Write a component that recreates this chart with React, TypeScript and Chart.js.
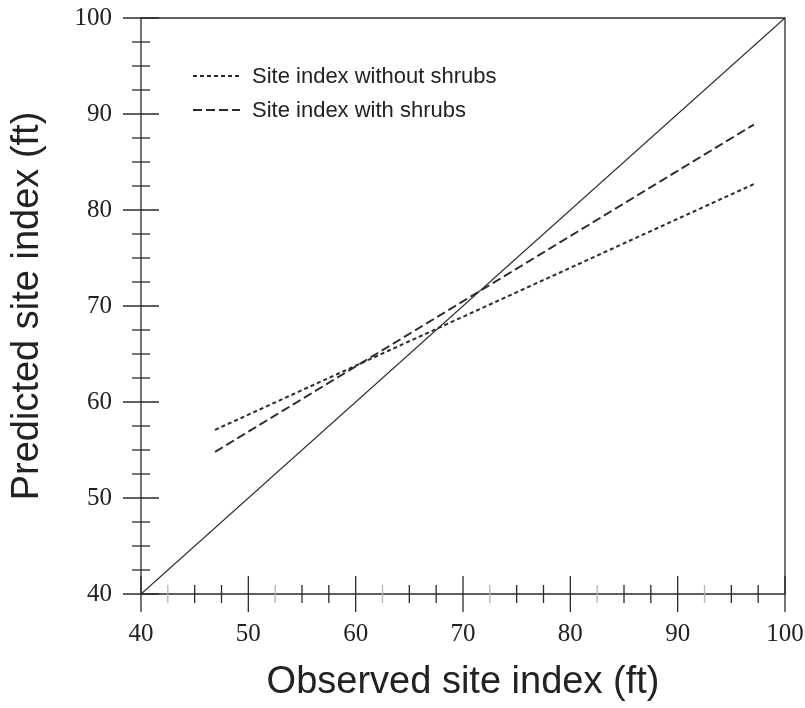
import React, { useEffect, useRef } from 'react';
import { Chart, registerables } from 'chart.js';

Chart.register(...registerables);

// ---- Data ----
const identityX = [40, 100];
const identityY = [40, 100];
const withoutShrubsX = [46.9, 97.1];
const withoutShrubsY = [57.1, 82.7];
const withShrubsX = [46.9, 97.1];
const withShrubsY = [54.8, 88.9];

const axisMin = 40;
const axisMax = 100;
const majorTicks = [40, 50, 60, 70, 80, 90, 100];
const minorTicks = [42.5, 45, 47.5, 52.5, 55, 57.5, 62.5, 65, 67.5, 72.5, 75, 77.5, 82.5, 85, 87.5, 92.5, 95, 97.5];
const xAxisTitle = 'Observed site index (ft)';
const yAxisTitle = 'Predicted site index (ft)';
const legendLabels = ['Site index without shrubs', 'Site index with shrubs'];

const toPoints = (xs: number[], ys: number[]) => xs.map((x, i) => ({ x, y: ys[i] }));

const DOTTED = [4, 3];
const DASHED = [9, 4];
const INK = '#2b2b2b';

const framePlugin = {
  id: 'frameAndTicks',
  afterDatasetsDraw(chart: any) {
    const ctx = chart.ctx as CanvasRenderingContext2D;
    const { left, right, top, bottom } = chart.chartArea;
    const xs = chart.scales.x;
    const ys = chart.scales.y;
    ctx.save();
    ctx.lineWidth = 1.3;
    ctx.strokeStyle = INK;
    ctx.setLineDash([]);
    // frame
    ctx.beginPath();
    ctx.moveTo(left, top);
    ctx.lineTo(right, top);
    ctx.lineTo(right, bottom);
    ctx.lineTo(left, bottom);
    ctx.closePath();
    ctx.stroke();
    // x ticks
    for (const v of minorTicks) {
      const px = xs.getPixelForValue(v);
      ctx.strokeStyle = Math.abs((v % 10) - 2.5) < 1e-6 ? '#b5b5b5' : INK;
      ctx.beginPath();
      ctx.moveTo(px, bottom - 9);
      ctx.lineTo(px, bottom + 9);
      ctx.stroke();
    }
    ctx.strokeStyle = INK;
    for (const v of majorTicks) {
      const px = xs.getPixelForValue(v);
      ctx.beginPath();
      ctx.moveTo(px, bottom - 18);
      ctx.lineTo(px, bottom + 18);
      ctx.stroke();
    }
    // y ticks
    for (const v of minorTicks) {
      const py = ys.getPixelForValue(v);
      ctx.beginPath();
      ctx.moveTo(left - 9, py);
      ctx.lineTo(left + 9, py);
      ctx.stroke();
    }
    for (const v of majorTicks) {
      const py = ys.getPixelForValue(v);
      ctx.beginPath();
      ctx.moveTo(left - 18, py);
      ctx.lineTo(left + 18, py);
      ctx.stroke();
    }
    // legend
    const lx = left + 52;
    const rows = [
      { y: top + 58, dash: DOTTED, label: legendLabels[0] },
      { y: top + 92, dash: DASHED, label: legendLabels[1] },
    ];
    ctx.font = '22px "Liberation Sans", Arial, sans-serif';
    ctx.textBaseline = 'middle';
    ctx.textAlign = 'left';
    ctx.fillStyle = '#222';
    for (const r of rows) {
      ctx.strokeStyle = INK;
      ctx.lineWidth = 2;
      ctx.setLineDash(r.dash);
      ctx.beginPath();
      ctx.moveTo(lx, r.y);
      ctx.lineTo(lx + 47, r.y);
      ctx.stroke();
      ctx.setLineDash([]);
      ctx.fillText(r.label, lx + 59, r.y + 1);
    }
    ctx.restore();
  },
};

export default function App() {
  const canvasRef = useRef<HTMLCanvasElement | null>(null);

  useEffect(() => {
    if (!canvasRef.current) return;
    const chart = new Chart(canvasRef.current, {
      type: 'scatter',
      data: {
        datasets: [
          {
            label: '1:1',
            data: toPoints(identityX, identityY),
            showLine: true,
            borderColor: INK,
            borderWidth: 1.3,
            pointRadius: 0,
            fill: false,
          },
          {
            label: legendLabels[0],
            data: toPoints(withoutShrubsX, withoutShrubsY),
            showLine: true,
            borderColor: INK,
            borderWidth: 2,
            borderDash: DOTTED,
            pointRadius: 0,
            fill: false,
          },
          {
            label: legendLabels[1],
            data: toPoints(withShrubsX, withShrubsY),
            showLine: true,
            borderColor: INK,
            borderWidth: 2,
            borderDash: DASHED,
            pointRadius: 0,
            fill: false,
          },
        ],
      },
      options: {
        responsive: false,
        animation: false,
        devicePixelRatio: 1,
        layout: { padding: { top: 18, right: 20, left: 0, bottom: 0 } },
        plugins: {
          legend: { display: false },
          tooltip: { enabled: false },
        },
        scales: {
          x: {
            type: 'linear',
            min: axisMin,
            max: axisMax,
            grid: { display: false, drawTicks: false },
            border: { display: false },
            ticks: {
              stepSize: 10,
              padding: 25,
              color: '#222',
              font: { family: '"Liberation Serif", "Times New Roman", serif', size: 25 },
              maxRotation: 0,
            },
            title: {
              display: true,
              text: xAxisTitle,
              color: '#222',
              font: { family: '"Liberation Sans", Arial, sans-serif', size: 38 },
              padding: { top: 0, bottom: 3 },
            },
            afterFit: (scale: any) => {
              scale.height = 114;
              scale.paddingLeft = 0;
              scale.paddingRight = 0;
            },
          },
          y: {
            type: 'linear',
            min: axisMin,
            max: axisMax,
            grid: { display: false, drawTicks: false },
            border: { display: false },
            ticks: {
              stepSize: 10,
              padding: 29,
              color: '#222',
              font: { family: '"Liberation Serif", "Times New Roman", serif', size: 25 },
            },
            title: {
              display: true,
              text: yAxisTitle,
              color: '#222',
              font: { family: '"Liberation Sans", Arial, sans-serif', size: 38 },
              padding: { top: 5, bottom: 0 },
            },
            afterFit: (scale: any) => {
              scale.width = 141;
              scale.paddingTop = 0;
              scale.paddingBottom = 0;
            },
          },
        },
      },
      plugins: [framePlugin],
    });
    return () => chart.destroy();
  }, []);

  return (
    <div style={{ position: 'absolute', left: 0, top: 0, width: 805, height: 708, background: '#fff' }}>
      <canvas ref={canvasRef} width={805} height={708} style={{ display: 'block' }} />
    </div>
  );
}
